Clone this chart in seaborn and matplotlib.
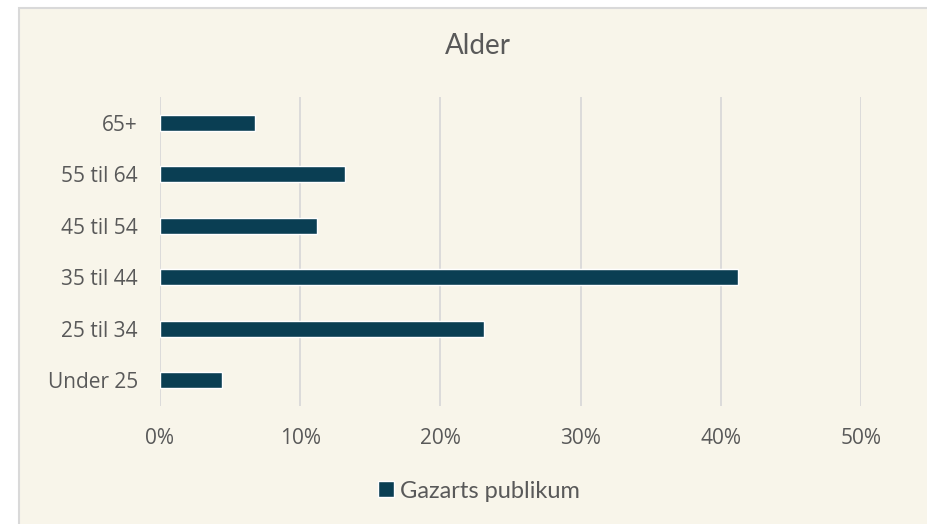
import matplotlib
matplotlib.use("Agg")
import matplotlib.pyplot as plt
from matplotlib.patches import Rectangle
from matplotlib.ticker import PercentFormatter
import pandas as pd
import seaborn as sns

# Data
age_groups = ["65+", "55 til 64", "45 til 54", "35 til 44", "25 til 34", "Under 25"]
share = [0.068, 0.132, 0.112, 0.412, 0.231, 0.044]
series_name = "Gazarts publikum"
x_ticks = [0, 0.1, 0.2, 0.3, 0.4, 0.5]

BG = "#F8F5EA"
BAR = "#0A3E53"
TEXT = "#595959"
GRID = "#D9D9D9"

sns.set_theme(style="white")
plt.rcParams["font.family"] = ["Open Sans", "DejaVu Sans"]

df = pd.DataFrame({"alder": age_groups, "andel": share})

fig = plt.figure(figsize=(9.28, 5.24), dpi=100)
fig.patch.set_facecolor("white")

# chart area box (cream with light grey border), kept behind the axes
box = Rectangle((19 / 928, -0.05), 1.1, 1.05 - 8 / 524,
                transform=fig.transFigure, facecolor=BG,
                edgecolor=GRID, linewidth=1.5, zorder=-10)
fig.add_artist(box)

ax = fig.add_axes([160 / 928, 1 - 406 / 524, 701 / 928, 309 / 524])
ax.patch.set_alpha(0)

sns.barplot(data=df, x="andel", y="alder", order=age_groups, color=BAR,
            width=0.31, saturation=1, label=series_name, ax=ax, zorder=3)

ax.set_xlim(0, 0.5)
ax.set_xticks(x_ticks)
ax.xaxis.set_major_formatter(PercentFormatter(1.0, decimals=0))
ax.grid(axis="x", color=GRID, linewidth=1.3, zorder=0)
ax.set_axisbelow(True)
for s in ax.spines.values():
    s.set_visible(False)
ax.set_xlabel("")
ax.set_ylabel("")
ax.tick_params(axis="both", length=0, labelsize=15, labelcolor=TEXT)
ax.tick_params(axis="y", pad=16)
ax.tick_params(axis="x", pad=16)

fig.text(478 / 928, 1 - 46 / 524, "Alder", ha="center", va="center",
         fontsize=20, color=TEXT, family=["Lato", "DejaVu Sans"])

handles, labels = ax.get_legend_handles_labels()
leg = ax.legend(handles, labels, loc="center",
                bbox_to_anchor=(479 / 928, 1 - 491 / 524),
                bbox_transform=fig.transFigure, frameon=False,
                handlelength=0.65, handleheight=0.65, handletextpad=0.25,
                prop={"family": ["Lato", "DejaVu Sans"], "size": 17})
for t in leg.get_texts():
    t.set_color(TEXT)

fig.savefig("out.png", dpi=100, facecolor=fig.get_facecolor())
